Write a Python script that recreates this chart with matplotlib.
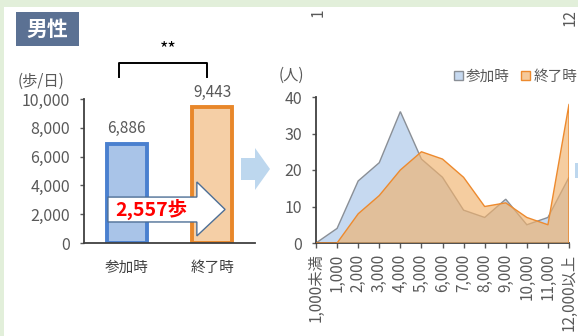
import matplotlib
matplotlib.use('Agg')
import matplotlib.pyplot as plt
from matplotlib.patches import Rectangle, Polygon, Patch

plt.rcParams['font.family'] = ['Noto Sans CJK JP', 'DejaVu Sans']

# left: average daily steps
bar_labels = ['参加時', '終了時']
bar_values = [6886, 9443]
diff_label = '2,557歩'

# right: distribution of participants by steps
step_bins = ['1,000未満', '1,000', '2,000', '3,000', '4,000', '5,000', '6,000',
             '7,000', '8,000', '9,000', '10,000', '11,000', '12,000以上']
start_counts = [0, 4, 17, 22, 36, 23, 18, 9, 7, 12, 5, 7, 18]
end_counts = [0, 0, 8, 13, 20, 25, 23, 18, 10, 11, 7, 5, 38]

W, H = 578, 336
GRAY = '#595959'


def fx(x):
    return x / W


def fy(y):
    return 1 - y / H


fig = plt.figure(figsize=(W / 100, H / 100), dpi=100)
fig.patch.set_facecolor('#e2efda')
fig.patches.append(Rectangle((fx(4), 0), 1, fy(7), transform=fig.transFigure,
                             facecolor='white', edgecolor='none', zorder=-5))

# title box
fig.patches.append(Rectangle((fx(16), fy(46)), fx(63), 34 / H, transform=fig.transFigure,
                             facecolor='#5b7193', edgecolor='none', zorder=1))
fig.text(fx(47.5), fy(29), '男性', color='white', fontsize=15, fontweight='bold',
         ha='center', va='center')

# cut-off labels from chart above
fig.text(fx(318), fy(17), '1', rotation=90, color=GRAY, fontsize=11, ha='center', va='bottom')
fig.text(fx(570), fy(26), '12', rotation=90, color=GRAY, fontsize=11, ha='center', va='bottom')

# ---- left bar chart
ax1 = fig.add_axes([fx(84), fy(243), 171 / W, 144 / H])
ax1.bar([0], [bar_values[0]], width=0.47, color='#a9c4e8', edgecolor='#4a80cf', linewidth=2.8)
ax1.bar([1], [bar_values[1]], width=0.47, color='#f5cfa6', edgecolor='#e8872a', linewidth=2.8)
for i, v in enumerate(bar_values):
    ax1.text(i, v + 450, f'{v:,}', ha='center', va='bottom', fontsize=11, color=GRAY)
ax1.set_xlim(-0.5, 1.5)
ax1.set_ylim(0, 10000)
ax1.set_yticks(range(0, 10001, 2000))
ax1.set_yticklabels([f'{v:,}' for v in range(0, 10001, 2000)])
ax1.set_xticks([0, 1])
ax1.set_xticklabels(bar_labels)
ax1.tick_params(axis='y', length=3, width=1, color=GRAY, labelcolor=GRAY, labelsize=11.5, pad=7)
ax1.tick_params(axis='x', length=0, labelcolor='#404040', labelsize=10.5, pad=13)
for s in ['top', 'right']:
    ax1.spines[s].set_visible(False)
for s in ['left', 'bottom']:
    ax1.spines[s].set_color('#404040')
    ax1.spines[s].set_linewidth(1.3)
ax1.set_facecolor('none')

# difference arrow
arrow_pts = [(-0.22, 1460), (0.82, 1460), (0.82, 490), (1.15, 2330),
             (0.82, 4240), (0.82, 3190), (-0.22, 3190)]
ax1.add_patch(Polygon(arrow_pts, closed=True, facecolor='white', edgecolor='#4d6f96',
                      linewidth=1, clip_on=False, zorder=5))
ax1.text(0.29, 2330, diff_label, color='#ff0000', fontsize=14, fontweight='bold',
         ha='center', va='center', zorder=6)

fig.text(fx(41), fy(81), '(歩/日)', color=GRAY, fontsize=11, ha='center', va='center')

# significance bracket
fig.lines.append(plt.Line2D([fx(119), fx(119), fx(207), fx(207)],
                            [fy(77), fy(63), fy(63), fy(77)],
                            transform=fig.transFigure, color='black', linewidth=1.4))
fig.text(fx(168), fy(49), '**', color='black', fontsize=13, ha='center', va='center')

# connector arrows
fig.patches.append(Polygon([(fx(241), fy(158)), (fx(255), fy(158)), (fx(255), fy(148)),
                            (fx(270), fy(169)), (fx(255), fy(190)), (fx(255), fy(180)),
                            (fx(241), fy(180))], closed=True, transform=fig.transFigure,
                           facecolor='#bdd7ee', edgecolor='none'))
fig.patches.append(Rectangle((fx(575), fy(178)), fx(5), 15 / H, transform=fig.transFigure,
                             facecolor='#bdd7ee', edgecolor='none'))

# ---- right area chart
ax2 = fig.add_axes([fx(316), fy(243), 253 / W, 146 / H])
xs = list(range(len(step_bins)))
ax2.fill(xs + [xs[-1], xs[0]], start_counts + [0, 0], facecolor='#c6d9f0',
         edgecolor='#8a8f96', linewidth=1, zorder=2, label='参加時')
ax2.fill(xs + [xs[-1], xs[0]], end_counts + [0, 0], facecolor='#f1b26d', alpha=0.65,
         edgecolor='none', zorder=3)
ax2.plot(xs + [xs[-1]], end_counts + [0], color='#ed8a2e', linewidth=1, zorder=4)
ax2.set_xlim(0, 12)
ax2.set_ylim(0, 40)
ax2.set_yticks(range(0, 41, 10))
ax2.set_xticks(xs)
ax2.set_xticklabels(step_bins, rotation=90, va='top', ha='center')
ax2.tick_params(axis='y', length=3, width=1, color=GRAY, labelcolor=GRAY, labelsize=11.5, pad=7)
ax2.tick_params(axis='x', length=3.5, width=1, color=GRAY, labelcolor=GRAY, labelsize=11, pad=4)
for s in ['top', 'right']:
    ax2.spines[s].set_visible(False)
for s in ['left', 'bottom']:
    ax2.spines[s].set_color('#404040')
    ax2.spines[s].set_linewidth(1.3)
ax2.set_facecolor('none')

fig.text(fx(291), fy(75), '(人)', color=GRAY, fontsize=11, ha='center', va='center')

handles = [Patch(facecolor='#c6d9f0', edgecolor='#8a8f96', linewidth=1),
           Patch(facecolor='#f5c99a', edgecolor='#ed8a2e', linewidth=1)]
fig.legend(handles, bar_labels, loc='center right', bbox_to_anchor=(fx(577), fy(77)),
           ncol=2, frameon=False, fontsize=10.5, labelcolor=GRAY, handlelength=0.6,
           handleheight=0.6, handletextpad=0.2, columnspacing=0.8, borderpad=0,
           borderaxespad=0)

fig.savefig('out.png', dpi=100, facecolor=fig.get_facecolor())
